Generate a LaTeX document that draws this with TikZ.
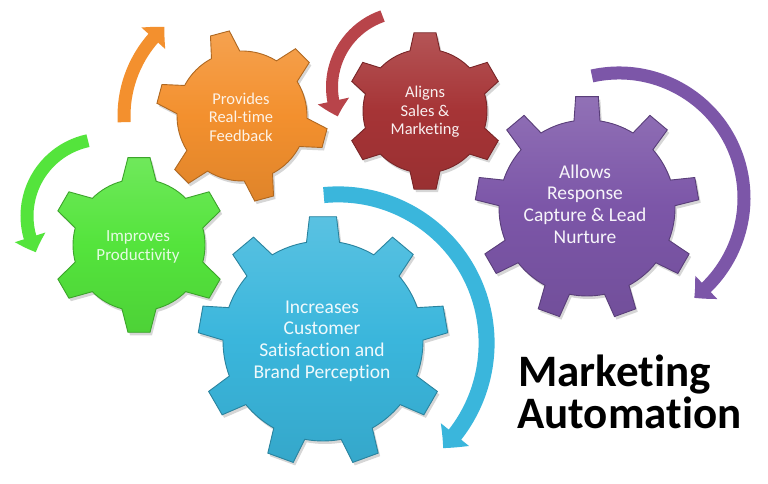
\documentclass[tikz,border=0pt]{standalone}
\usepackage{fontspec}
\setmainfont[Ligatures={NoCommon}]{Carlito}
\usetikzlibrary{arrows.meta,bending}
\definecolor{gorange}{RGB}{243,144,46}
\definecolor{gred}{RGB}{166,52,54}
\definecolor{ggreen}{RGB}{84,228,60}
\definecolor{gblue}{RGB}{58,182,220}
\definecolor{gpurple}{RGB}{124,86,168}
\definecolor{ared}{RGB}{184,68,74}

% #1 style, #2 x, #3 y, #4 teeth, #5 first tooth angle, #6 tip radius, #7 root radius, #8 tip half angle, #9 base half angle
\newcommand\gearpath[9]{%
\begin{scope}[shift={(#2pt,#3pt)}]
\path[#1] ({#5-#9}:#7pt)
 \foreach \k in {1,...,#4}{
   -- ({#5+360/#4*(\k-1)-#8}:#6pt) -- ({#5+360/#4*(\k-1)+#8}:#6pt)
   -- ({#5+360/#4*(\k-1)+#9}:#7pt)
   arc[start angle={#5+360/#4*(\k-1)+#9}, end angle={#5+360/#4*\k-#9}, radius=#7pt]
 } -- cycle;
\end{scope}}

\tikzset{
  gshadow/.style={fill=black, opacity=0.16},
  gearstyle/.style={top color=#1!84!white, bottom color=#1!92!black, middle color=#1, draw=#1!72!black, line width=0.9pt},
  gtext/.style={text=#1, align=center, inner sep=0pt},
  band/.style={line width=13pt, draw=#1, -{Triangle[length=16pt,width=31pt,bend]}},
}

\begin{document}
\begin{tikzpicture}[x=1pt,y=1pt]
\useasboundingbox (0,0) rectangle (768,484);
\fill[white] (0,0) rectangle (768,484);

% shadows
\gearpath{gshadow}{244}{365}{6}{105}{86}{65}{6.5}{13}
\gearpath{gshadow}{427}{370}{6}{90}{79}{62}{8}{14}
\gearpath{gshadow}{141}{236}{6}{90}{88}{66}{7.2}{15}
\gearpath{gshadow}{325}{140}{9}{90}{125}{100}{6.2}{9.5}
\gearpath{gshadow}{589}{273}{9}{90}{112}{88}{5.8}{8.5}

% gears
\gearpath{gearstyle=gorange}{242}{368}{6}{105}{86}{65}{6.5}{13}
\gearpath{gearstyle=gred}{425}{373}{6}{90}{79}{62}{8}{14}
\gearpath{gearstyle=ggreen}{139}{239}{6}{90}{88}{66}{7.2}{15}
\gearpath{gearstyle=gblue}{323}{143}{9}{90}{125}{100}{6.2}{9.5}
\gearpath{gearstyle=gpurple}{587}{276}{9}{90}{112}{88}{5.8}{8.5}

% gear labels
\node[gtext=gorange!12!white, font=\fontsize{16.5}{18.5}\selectfont] (tOrange) at (241,367) {Provides\\Real-time\\Feedback};
\node[gtext=gred!8!white, font=\fontsize{16.5}{18.5}\selectfont] (tRed) at (425,372) {Aligns\\Sales \&\\Marketing};
\node[gtext=ggreen!15!white, font=\fontsize{17}{18.5}\selectfont] (tGreen) at (138,237) {Improves\\Productivity};
\node[gtext=gblue!8!white, font=\fontsize{19.5}{21.7}\selectfont] (tBlue) at (322,143) {Increases\\Customer\\Satisfaction and\\Brand Perception};
\node[gtext=gpurple!6!white, font=\fontsize{19.5}{21.7}\selectfont] (tPurple) at (585,280) {Allows\\Response\\Capture \& Lead\\Nurture};

% arc centres
\coordinate (cO) at (242,368);
\coordinate (cR) at (407,397);
\coordinate (cG) at (104,268);
\coordinate (cP) at (619,286);
\coordinate (cB) at (338,141);

% curved arrows
\draw[band=gorange] ([shift={(183:118)}]cO) arc[start angle=183, end angle=131, radius=118];
\draw[band=ared, line width=12pt] ([shift={(109:75)}]cR) arc[start angle=109, end angle=203, radius=75];
\draw[band=ggreen] ([shift={(102:77)}]cG) arc[start angle=102, end angle=208, radius=77];
\draw[band=gpurple] ([shift={(102.5:125)}]cP) arc[start angle=102.5, end angle=-53, radius=125];
\draw[band=gblue, line width=16pt, -{Triangle[length=18pt,width=35pt,bend]}] ([shift={(95.5:148.6)}]cB) arc[start angle=95.5, end angle=-45, radius=148.6];

% title
\node[anchor=base west, inner sep=0pt, font=\fontsize{45}{50}\selectfont\bfseries] (title1) at (518,97) {Marketing};
\node[anchor=base west, inner sep=0pt, font=\fontsize{45}{50}\selectfont\bfseries] (title2) at (517,55) {Automation};
\end{tikzpicture}
\end{document}
